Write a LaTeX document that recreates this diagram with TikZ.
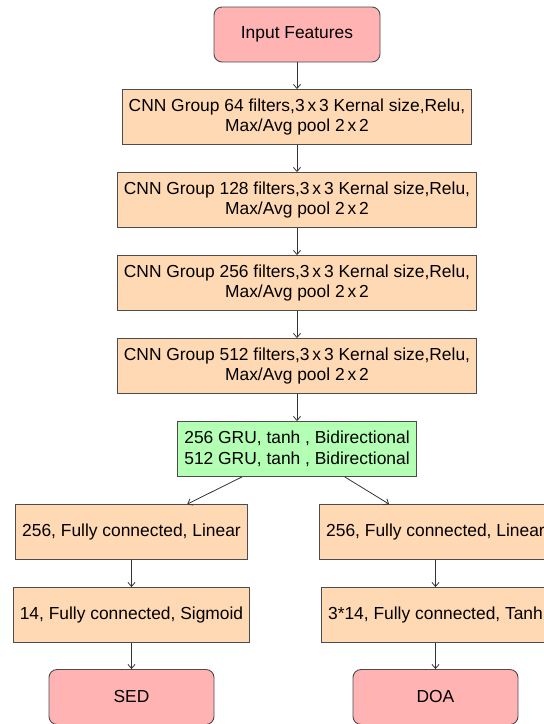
\documentclass[tikz,border=0pt]{standalone}
\usepackage{fontspec}
\setmainfont{Liberation Sans}
\usepackage{tikz}
\usetikzlibrary{calc}
\usetikzlibrary{arrows.meta}

\definecolor{peach}{RGB}{255,217,179}
\definecolor{rose}{RGB}{255,179,179}
\definecolor{mint}{RGB}{179,255,179}

\begin{document}
\begin{tikzpicture}[x = 1pt, y = -1pt,
    layer/.style = {draw=black!70, line width=0.9pt, fill=peach, minimum height=55pt,
                    inner xsep=6.5pt, align=center, font=\fontsize{17.4}{20.5}\selectfont},
    term/.style  = {layer, fill=rose, rounded corners=8pt, minimum width=166pt},
    link/.style  = {-{Straight Barb[length=4pt,width=7pt]}, line width=0.8pt, black!80}]

    \useasboundingbox (0,0) rectangle (544,724);
    \clip (0,0) rectangle (544,724);

    \node[term] at (297,34.5) (input) {Input Features};

    \def \groups {{64,128,256,512}}
    \foreach \i in {0,...,3}{
        \pgfmathsetmacro\filters{int(\groups[\i])}
        \node[layer] at (297,117+83*\i) (cnn\i)
            {CNN Group \filters{} filters,3\,x\,3 Kernal size,Relu,\\Max/Avg pool 2\,x\,2};
    }

    \node[layer, fill=mint] at (297,449) (gru)
        {256 GRU, tanh , Bidirectional\\512 GRU, tanh , Bidirectional};

    % two output branches
    \node[layer] at (131.5,532) (fcsed) {256, Fully connected, Linear};
    \node[layer] at (435.5,532) (fcdoa) {256, Fully connected, Linear};
    \node[layer] at (131.5,615) (actsed) {14, Fully connected, Sigmoid};
    \node[layer] at (435.5,615) (actdoa) {3*14, Fully connected, Tanh};
    \node[term, minimum width=165pt] at (131.5,697) (sed) {SED};
    \node[term, minimum width=165pt] at (435.5,697) (doa) {DOA};

    \draw[link] (input) -- (cnn0);
    \foreach \i/\j in {0/1,1/2,2/3}{
        \draw[link] (cnn\i) -- (cnn\j);
    }
    \draw[link] (cnn3) -- (gru);
    \draw[link] ($(gru.south west)!0.27!(gru.south east)$) -- ($(fcsed.north west)!0.74!(fcsed.north east)$);
    \draw[link] ($(gru.south west)!0.70!(gru.south east)$) -- ($(fcdoa.north west)!0.30!(fcdoa.north east)$);
    \draw[link] (fcsed) -- (actsed);
    \draw[link] (fcdoa) -- (actdoa);
    \draw[link] (actsed) -- (sed);
    \draw[link] (actdoa) -- (doa);

\end{tikzpicture}
\end{document}
